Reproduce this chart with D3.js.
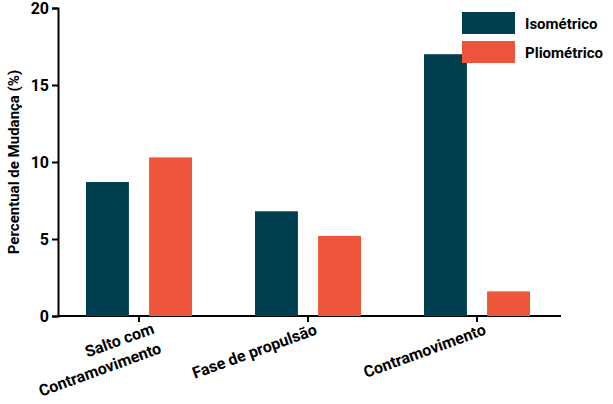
<!DOCTYPE html>
<html><head><meta charset="utf-8">
<script src="https://cdn.jsdelivr.net/npm/d3@7"></script>
<style>body{margin:0;background:#fff}text{font-family:"Liberation Sans Narrow","Roboto","Arial Narrow",sans-serif;font-weight:bold}</style>
</head><body><div id="container"></div>
<script>
const groups = [["Salto com", "Contramovimento"], ["Fase de propulsão"], ["Contramovimento"]];
const series = ["Isométrico", "Pliométrico"];
const isometrico = [8.7, 6.8, 17.0];
const pliometrico = [10.3, 5.2, 1.6];
const yTicks = [0, 5, 10, 15, 20];
const colors = ["#003f4f", "#ef553b"];

const width = 613, height = 404;
const svg = d3.select("#container").append("svg").attr("width", width).attr("height", height);

const x = d3.scaleBand().domain(d3.range(groups.length)).range([54.5, 561.5]);
const xs = d3.scaleBand().domain(series).range([31.5, 137.5]).paddingInner(0.32);
const y = d3.scaleLinear().domain([0, 20]).range([316, 8]);

const yAxis = svg.append("g").attr("transform", "translate(58,0)")
  .call(d3.axisLeft(y).tickValues(yTicks).tickSize(6));
yAxis.select(".domain").attr("stroke-width", 2);
yAxis.selectAll("line").attr("stroke-width", 2);
yAxis.selectAll("text").attr("font-size", 16).attr("fill", "#000");

svg.append("line").attr("x1", 57).attr("x2", 561).attr("y1", 316).attr("y2", 316)
  .attr("stroke", "#000").attr("stroke-width", 2);

svg.append("text").attr("transform", "translate(19,162) rotate(-90)")
  .attr("text-anchor", "middle").attr("font-size", 15).text("Percentual de Mudança (%)");

const data = groups.map((g, i) => [isometrico[i], pliometrico[i]]);
data.forEach((vals, i) => {
  vals.forEach((v, j) => {
    svg.append("rect")
      .attr("x", x(i) + xs(series[j]))
      .attr("y", y(v))
      .attr("width", xs.bandwidth())
      .attr("height", y(0) - y(v))
      .attr("fill", colors[j]);
  });
  const cx = x(i) + x.bandwidth() / 2;
  svg.append("line").attr("x1", cx).attr("x2", cx).attr("y1", 316).attr("y2", 322)
    .attr("stroke", "#000").attr("stroke-width", 2);
  const t = svg.append("text")
    .attr("transform", `translate(${cx + 10},${groups[i].length > 1 ? 316 : 334}) rotate(-20)`)
    .attr("text-anchor", "end").attr("font-size", 16);
  groups[i].forEach((line, k) => {
    t.append("tspan").attr("x", 0).attr("y", groups[i].length > 1 ? 18 + k * 21 : 0).text(line);
  });
});

series.forEach((s, j) => {
  svg.append("rect").attr("x", 462).attr("y", 12 + j * 29).attr("width", 53).attr("height", 22).attr("fill", colors[j]);
  svg.append("text").attr("x", 525).attr("y", 29 + j * 29).attr("font-size", 15).text(s);
});
</script></body></html>
